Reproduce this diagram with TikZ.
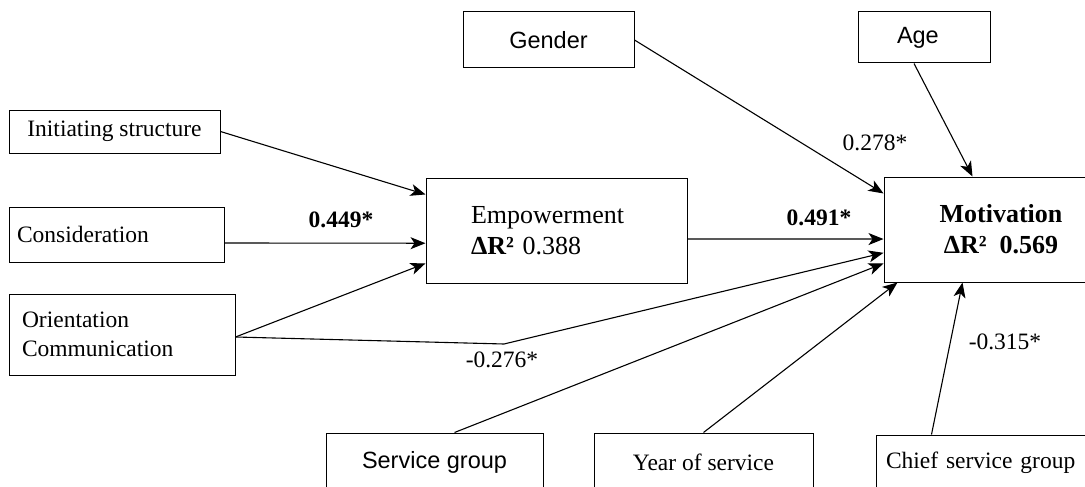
\documentclass[tikz,border=0pt]{standalone}
\usepackage{fontspec}
\setmainfont{Liberation Serif}
\setsansfont{Liberation Sans}
\usetikzlibrary{arrows.meta,calc}

\begin{document}
\begin{tikzpicture}[x=1pt, y=-1pt,
  box/.style={draw, line width=1pt, inner sep=0pt, font=\fontsize{23.5}{29}\selectfont},
  sbox/.style={box, font=\sffamily\fontsize{23.5}{29}\selectfont},
  bigbox/.style={box, font=\fontsize{26}{31}\selectfont},
  arr/.style={-{Stealth[length=15pt,width=12pt,inset=4pt]}, line width=1.1pt},
  lbl/.style={font=\fontsize{23.5}{28}\selectfont, inner sep=0pt}]
  \useasboundingbox (0,0) rectangle (1085,487);

  % Predictors on the left
  \node[box, minimum width=211pt, minimum height=43pt] (init) at (114.5,131.5) {Initiating structure};
  \node[box, text width=199pt, align=left, inner xsep=8pt, minimum height=55pt] (consid) at (116.5,234.5) {Consideration};
  \node[box, text width=200pt, align=left, inner xsep=13pt, minimum height=81pt] (orient) at (122,334.5) {Orientation\\Communication};

  % Mediator and outcome
  \node[bigbox, text width=171pt, align=left, inner xsep=45pt, minimum height=105pt] (empow) at (556.5,230.5) {Empowerment\\\textbf{ΔR²} 0.388};
  \node[bigbox, align=center, minimum width=234pt, minimum height=105pt, font=\bfseries\fontsize{26}{31}\selectfont] (motiv) at (1001,229.5) {Motivation\\ΔR²\ \ 0.569};

  % Control variables
  \node[sbox, minimum width=171pt, minimum height=56pt] (gender) at (548.5,40) {Gender};
  \node[sbox, text width=106pt, align=left, inner xsep=13pt, minimum height=51pt] (age) at (924,37.5) {\hspace*{26pt}Age};
  \node[sbox, minimum width=217pt, minimum height=58pt] (svcgrp) at (434.5,462) {Service group};
  \node[box, minimum width=219pt, minimum height=58pt] (yearsvc) at (703.5,462) {Year of service};
  \node[box, text width=194pt, align=left, inner xsep=10pt, minimum height=56pt] (chief) at (983,463) {Chief service group};

  % Paths into Empowerment
  \draw[arr] (init.east) -- ($(empow.north west)!0.16!(empow.south west)$);
  \draw[arr] (consid.east |- 0,243) -- ($(empow.north west)!0.62!(empow.south west)$);
  \draw[arr] ([yshift=-2.5pt]orient.east) -- ($(empow.north west)!0.81!(empow.south west)$);

  % Paths into Motivation
  \coordinate (bend) at (504,344);
  \draw[arr] (gender.east) -- ($(motiv.north west)!0.16!(motiv.south west)$);
  \draw[arr] ([xshift=-10pt]age.south) -- ([xshift=89pt]motiv.north west);
  \draw[arr] (empow.east |- 0,239) -- ($(motiv.north west)!0.59!(motiv.south west)$);
  \draw[arr] ([yshift=-2.5pt]orient.east) -- (bend) -- ($(motiv.north west)!0.72!(motiv.south west)$);
  \draw[arr] ([xshift=20pt]svcgrp.north) -- ($(motiv.north west)!0.82!(motiv.south west)$);
  \draw[arr] (yearsvc.north) -- ([xshift=14pt]motiv.south west);
  \draw[arr] ([xshift=56pt]chief.north west) -- ([xshift=79pt]motiv.south west);

  % Coefficients
  \node[lbl, font=\bfseries\fontsize{23.5}{28}\selectfont] (c449) at (341,220) {0.449*};
  \node[lbl, font=\bfseries\fontsize{23.5}{28}\selectfont] (c491) at (819,218) {0.491*};
  \node[lbl] (c278) at (875,143) {0.278*};
  \node[lbl] (c276) at (502,360) {-0.276*};
  \node[lbl] (c315) at (1005,342) {-0.315*};
\end{tikzpicture}
\end{document}
